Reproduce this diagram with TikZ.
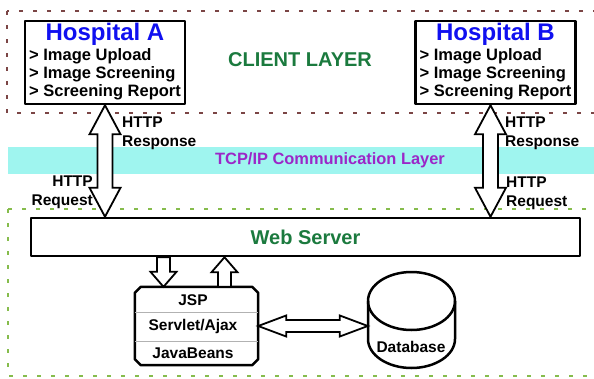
\documentclass[tikz,border=0pt]{standalone}
\usepackage{fontspec}
\setmainfont{Liberation Sans}
\usetikzlibrary{calc}

\definecolor{clientred}{HTML}{7B4545}
\definecolor{servergreen}{HTML}{86BC4C}
\definecolor{tcpcyan}{HTML}{9FF5EF}
\definecolor{layergreen}{HTML}{1B7A3E}
\definecolor{tcppurple}{HTML}{9B27C8}
\definecolor{hospblue}{HTML}{1010F0}

\tikzset{
  layer/.style={line width=2pt,dash pattern=on 4pt off 10pt},
  hosp/.style={draw,line width=2.5pt,minimum width=160,minimum height=83,inner sep=0pt,
    font=\fontsize{16.5}{18}\selectfont\bfseries},
  fatarrow/.style={draw,fill=white,line width=1.8pt,line join=miter},
  lbl/.style={inner sep=0pt,font=\fontsize{15.5}{19}\selectfont\bfseries},
  divider/.style={draw=gray!60,line width=1pt}
}

\newcommand{\hosptitle}[1]{{\fontsize{24}{28}\selectfont\color{hospblue}#1}}
% hollow arrows between named points
\newcommand{\vdouble}[2]{\draw[fatarrow] let \p1=(#1), \p2=(#2) in
  (\x1,\y1) -- (\x1+15.5pt,\y1-29pt) -- (\x1+7.5pt,\y1-29pt) -- (\x1+7.5pt,\y2+29pt)
  -- (\x1+15.5pt,\y2+29pt) -- (\x1,\y2) -- (\x1-15.5pt,\y2+29pt) -- (\x1-7.5pt,\y2+29pt)
  -- (\x1-7.5pt,\y1-29pt) -- (\x1-15.5pt,\y1-29pt) -- cycle;}
\newcommand{\vsingle}[2]{\draw[fatarrow] let \p1=(#1), \p2=(#2), \n1={sign(\y1-\y2)} in
  (\x1-6.5pt,\y1) -- (\x1-6.5pt,\y2+\n1*15pt) -- (\x1-13pt,\y2+\n1*15pt) -- (\x1,\y2)
  -- (\x1+13pt,\y2+\n1*15pt) -- (\x1+6.5pt,\y2+\n1*15pt) -- (\x1+6.5pt,\y1) -- cycle;}
\newcommand{\hdouble}[2]{\draw[fatarrow] let \p1=(#1), \p2=(#2) in
  (\x1,\y1) -- (\x1+28pt,\y1+10.5pt) -- (\x1+28pt,\y1+6pt) -- (\x2-28pt,\y1+6pt)
  -- (\x2-28pt,\y1+10.5pt) -- (\x2,\y1) -- (\x2-28pt,\y1-10.5pt) -- (\x2-28pt,\y1-6pt)
  -- (\x1+28pt,\y1-6pt) -- (\x1+28pt,\y1-10.5pt) -- cycle;}

\begin{document}
\begin{tikzpicture}[x=1pt,y=-1pt,line join=round]
  \clip (0,0) rectangle (594,378);
  % layers
  \draw[layer,clientred] (7,11) rectangle (620,113);
  \fill[tcpcyan] (8,147) rectangle (620,174);
  \draw[layer,servergreen] (8,209) rectangle (620,376);
  \node[font=\fontsize{20}{24}\selectfont\bfseries,text=layergreen] (client) at (300,60) {CLIENT LAYER};
  \node[font=\fontsize{16.4}{20}\selectfont\bfseries,text=tcppurple] (tcp) at (330,160) {TCP/IP Communication Layer};
  % hospitals
  \node[hosp] (hA) at (105,62.5) {\begin{tabular}{@{}l@{}}\multicolumn{1}{@{}c@{}}{\hosptitle{Hospital A}}\\[2pt]
    > Image Upload\\ > Image Screening\\ > Screening Report\end{tabular}};
  \node[hosp] (hB) at (495.5,62.5) {\begin{tabular}{@{}l@{}}\multicolumn{1}{@{}c@{}}{\hosptitle{Hospital B}}\\[2pt]
    > Image Upload\\ > Image Screening\\ > Screening Report\end{tabular}};
  % server side
  \node[draw=black,line width=2.5pt,minimum width=549,minimum height=38,
    font=\fontsize{20}{24}\selectfont\bfseries,text=layergreen] (web) at (305.5,237) {Web Server};
  \node[minimum width=123,minimum height=78,inner sep=0pt] (jsp) at (196.5,326) {};
  \draw[line width=2.5pt] ($(jsp.north west)+(6,0)$) -- ($(jsp.north east)+(-6,0)$)
    -- ($(jsp.north east)+(0,6)$) -- ($(jsp.south east)+(0,-6)$) -- ($(jsp.south east)+(-6,0)$)
    -- ($(jsp.south west)+(6,0)$) -- ($(jsp.south west)+(0,-6)$) -- ($(jsp.north west)+(0,6)$) -- cycle;
  \draw[divider] (jsp.west |- 0,312) -- (jsp.east |- 0,312);
  \draw[divider] (jsp.west |- 0,341) -- (jsp.east |- 0,341);
  \node[lbl] (jsptxt) at (193,300) {JSP};
  \node[lbl] (servlet) at (193,326.5) {Servlet/Ajax};
  \node[lbl] (beans) at (193,353) {JavaBeans};
  \node[minimum width=87,minimum height=96,inner sep=0pt] (db) at (411.5,320) {};
  \draw[line width=2.5pt] (411.5,301) ellipse [x radius=43.5,y radius=29];
  \draw[line width=2.5pt] (368,301) -- (368,339) arc[start angle=180,end angle=0,x radius=43.5,y radius=29] -- (455,301);
  \node[lbl] (dbtxt) at (411,347) {Database};
  % arrows
  \vdouble{hA.south}{web.north}
  \vdouble{$(hB.south)+(-5,0)$}{web.north}
  \coordinate (dn) at ($(jsp.north)+(-33,0)$);
  \coordinate (up) at ($(jsp.north)+(28,0)$);
  \vsingle{web.south -| dn}{dn}
  \vsingle{up}{web.south -| up}
  \hdouble{jsp.east}{db.west}
  \node[lbl,align=left,anchor=north west] (respA) at (122,117) {HTTP\\Response};
  \node[lbl,align=right,anchor=north east] (reqA) at (93,176) {HTTP\\Request};
  \node[lbl,align=left,anchor=north west] (respB) at (505,117) {HTTP\\Response};
  \node[lbl,align=left,anchor=north west] (reqB) at (506,177) {HTTP\\Request};
\end{tikzpicture}
\end{document}
